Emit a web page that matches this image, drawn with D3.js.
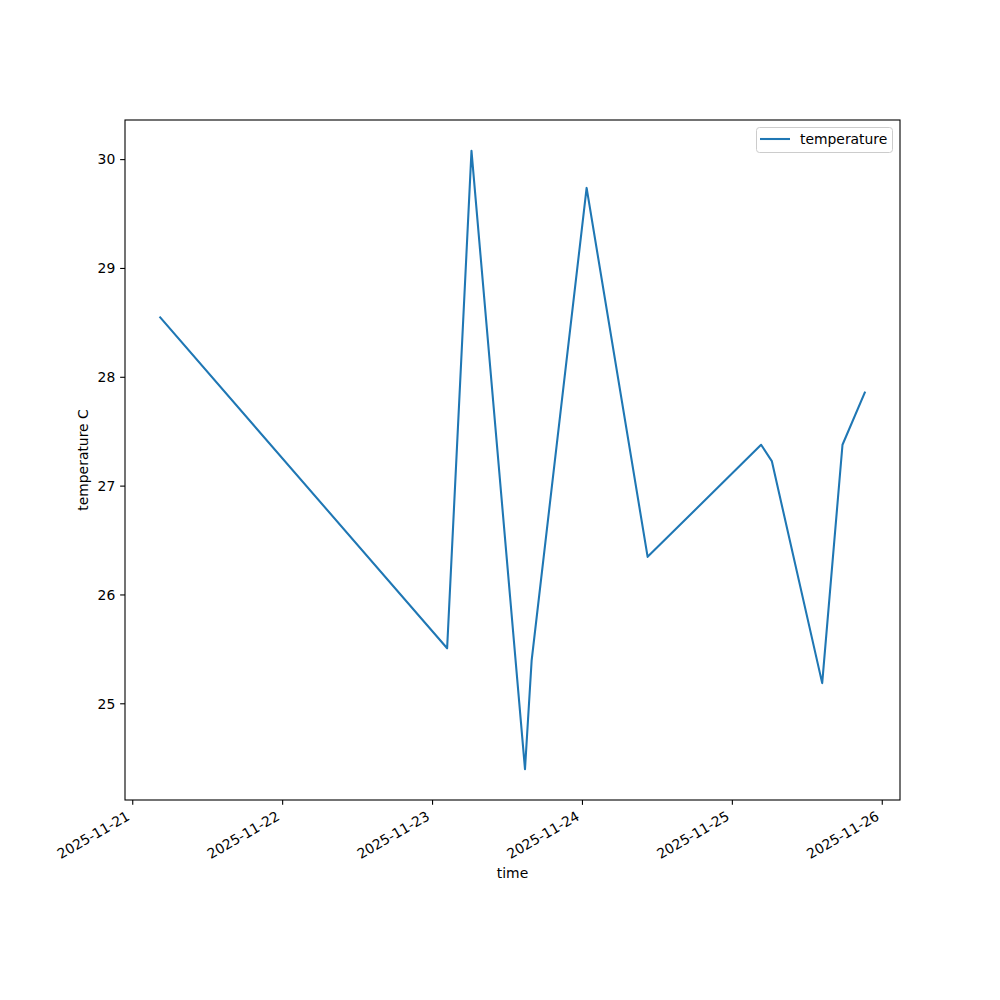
<!DOCTYPE html>
<html><head><meta charset="utf-8">
<script src="https://cdn.jsdelivr.net/npm/d3@7"></script>
<style>body{margin:0;background:#fff}text{font-family:"DejaVu Sans",sans-serif;fill:#000}</style>
</head><body>
<svg id="c" width="1000" height="1000"></svg>
<script>
const times = ["2025-11-21T04:24","2025-11-23T02:20","2025-11-23T06:14","2025-11-23T14:48","2025-11-23T15:52","2025-11-24T00:40","2025-11-24T10:26","2025-11-25T04:36","2025-11-25T06:19","2025-11-25T14:23","2025-11-25T17:38","2025-11-25T21:12"];
const temperature = [28.55,25.51,30.08,24.40,25.40,29.74,26.35,27.38,27.23,25.19,27.38,27.86];
const xTickLabels = ["2025-11-21","2025-11-22","2025-11-23","2025-11-24","2025-11-25","2025-11-26"];
const yTicks = [25,26,27,28,29,30];
const seriesName = "temperature";

const parse = d3.utcParse("%Y-%m-%dT%H:%M");
const data = times.map((t,i)=>({t:parse(t), v:temperature[i]}));
const L=125,R=900,T=120,B=800;
const svg = d3.select("#c");
const tExt = d3.extent(data,d=>d.t), vExt = d3.extent(data,d=>d.v);
const tPad = (tExt[1]-tExt[0])*0.05, vPad=(vExt[1]-vExt[0])*0.05;
const x = d3.scaleUtc().domain([new Date(+tExt[0]-tPad), new Date(+tExt[1]+tPad)]).range([L,R]);
const y = d3.scaleLinear().domain([vExt[0]-vPad, vExt[1]+vPad]).range([B,T]);

const line = d3.line().x(d=>x(d.t)).y(d=>y(d.v));
svg.append("path").datum(data).attr("d",line).attr("fill","none")
  .attr("stroke","#1f77b4").attr("stroke-width",2.08).attr("stroke-linejoin","round").attr("stroke-linecap","square");

// frame
svg.append("rect").attr("x",L).attr("y",T).attr("width",R-L).attr("height",B-T)
  .attr("fill","none").attr("stroke","#000").attr("stroke-width",1.1);

// x ticks
const xParse = d3.utcParse("%Y-%m-%d");
const xg = svg.append("g");
xTickLabels.forEach(lbl=>{
  const px = x(xParse(lbl));
  xg.append("line").attr("x1",px).attr("x2",px).attr("y1",B).attr("y2",B+4.86).attr("stroke","#000").attr("stroke-width",1.1);
  xg.append("text").attr("text-anchor","end").attr("font-size",13.9)
    .attr("transform",`translate(${px-2},${B+19}) rotate(-30)`).text(lbl);
});
// y ticks
const yg = svg.append("g");
yTicks.forEach(v=>{
  const py = y(v);
  yg.append("line").attr("x1",L-4.86).attr("x2",L).attr("y1",py).attr("y2",py).attr("stroke","#000").attr("stroke-width",1.1);
  yg.append("text").attr("x",L-9.7).attr("y",py).attr("dy","0.35em").attr("text-anchor","end").attr("font-size",13.9).text(v);
});
svg.append("text").attr("x",(L+R)/2).attr("y",878).attr("text-anchor","middle").attr("font-size",13.9).text("time");
svg.append("text").attr("transform",`translate(88,${(T+B)/2}) rotate(-90)`).attr("text-anchor","middle").attr("font-size",13.9).text("temperature C");

// legend
const lg = svg.append("g");
lg.append("rect").attr("x",756.5).attr("y",127.5).attr("width",136).attr("height",25).attr("rx",3)
  .attr("fill","#fff").attr("fill-opacity",0.8).attr("stroke","#cccccc").attr("stroke-width",1);
lg.append("line").attr("x1",760).attr("x2",790).attr("y1",139).attr("y2",139).attr("stroke","#1f77b4").attr("stroke-width",2.08);
lg.append("text").attr("x",800).attr("y",144).attr("font-size",13.9).text(seriesName);
</script>
</body></html>
